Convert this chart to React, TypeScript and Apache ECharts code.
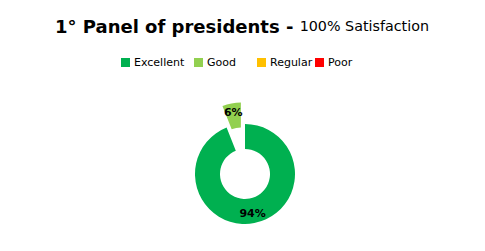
import React, { useEffect, useRef } from "react";
import * as echarts from "echarts";

const categories = ["Excellent", "Good", "Regular", "Poor"];
const values = [94, 6, 0, 0];
const colors = ["#00B050", "#92D050", "#FFC000", "#FF0000"];
const selectedCategory = "Good";
const titleMain = "1° Panel of presidents - ";
const titleSub = "100% Satisfaction";
const legendLefts = [121, 194, 257, 315];

export default function App() {
  const ref = useRef<HTMLDivElement>(null);
  useEffect(() => {
    document.body.style.margin = "0";
    if (!ref.current) return;
    const chart = echarts.init(ref.current, null, { renderer: "svg" });
    const font = "DejaVu Sans, Verdana, sans-serif";
    chart.setOption({
      animation: false,
      backgroundColor: "#ffffff",
      title: {
        text: `{a|${titleMain}}{b|${titleSub}}`,
        left: 50,
        top: 12,
        textStyle: {
          rich: {
            a: { fontFamily: font, fontSize: 18, fontWeight: "bold", color: "#000" },
            b: { fontFamily: font, fontSize: 14.3, fontWeight: "normal", color: "#000" },
          },
        },
      },
      legend: categories.map((c, i) => ({
        data: [c],
        left: legendLefts[i],
        top: 57,
        padding: 0,
        itemWidth: 9,
        itemHeight: 9,
        itemGap: 4,
        icon: "rect",
        selectedMode: false,
        textStyle: { fontFamily: font, fontSize: 11, color: "#000", padding: [0, 0, 0, -1] },
      })),
      series: [
        {
          type: "pie",
          center: [245, 174],
          radius: [25, 50],
          startAngle: 90,
          clockwise: true,
          selectedMode: "single",
          selectedOffset: 22,
          avoidLabelOverlap: false,
          label: {
            show: true,
            position: "inside",
            fontFamily: font,
            fontSize: 11,
            fontWeight: "bold",
            color: "#000",
            formatter: (p: any) => (p.value ? `${Math.round(p.percent)}%` : ""),
          },
          labelLine: { show: false },
          emphasis: { disabled: true },
          data: categories.map((c, i) => ({
            name: c,
            value: values[i],
            selected: c === selectedCategory,
            itemStyle: { color: colors[i] },
          })),
        },
      ],
    });
    return () => chart.dispose();
  }, []);
  return <div ref={ref} style={{ width: 485, height: 251 }} />;
}
